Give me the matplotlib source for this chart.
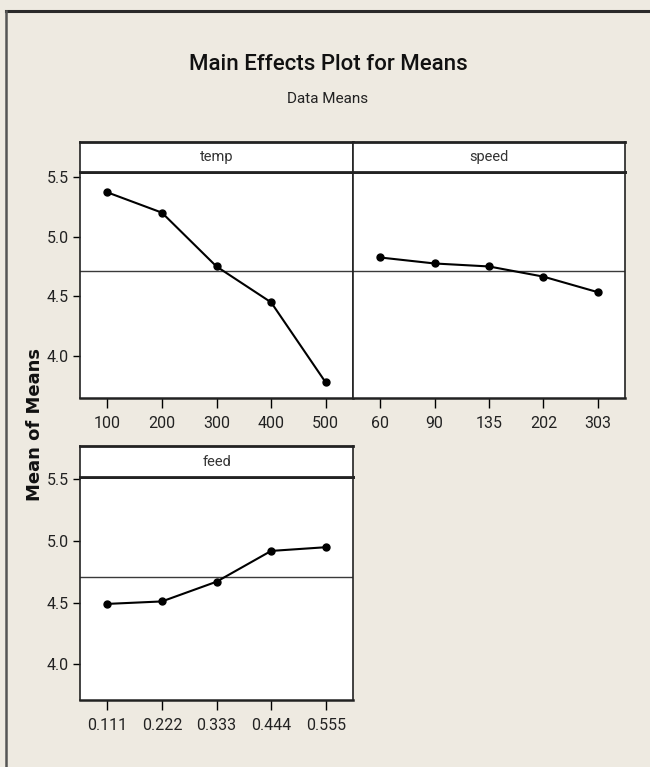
import matplotlib.pyplot as plt
from matplotlib.lines import Line2D

# data (Minitab main effects plot)
temp_levels = ['100', '200', '300', '400', '500']
temp_means = [5.37, 5.20, 4.75, 4.45, 3.78]

speed_levels = ['60', '90', '135', '202', '303']
speed_means = [4.825, 4.775, 4.75, 4.665, 4.535]

feed_levels = ['0.111', '0.222', '0.333', '0.444', '0.555']
feed_means = [4.49, 4.51, 4.67, 4.92, 4.95]

grand_mean = 4.71
y_ticks = [4.0, 4.5, 5.0, 5.5]

W, H = 650, 767
bg = '#EEEAE1'
narrow = ['Roboto', 'DejaVu Sans']

fig = plt.figure(figsize=(6.5, 7.67), dpi=100, facecolor=bg)


def px_axes(x0, y0, x1, y1):
    # pixel box (top-left origin) -> figure axes
    return fig.add_axes([x0 / W, 1 - y1 / H, (x1 - x0) / W, (y1 - y0) / H])


def panel(x0, x1, y_strip, y_top, y_bot, levels, means, name, ylim, show_y):
    ax = px_axes(x0, y_top, x1, y_bot)
    ax.set_facecolor('white')
    ax.plot(range(len(levels)), means, color='black', lw=1.5, marker='o',
            ms=5, zorder=3)
    ax.axhline(grand_mean, color='#3a3a3a', lw=1.0, zorder=2)
    ax.set_xlim(-0.5, len(levels) - 0.5)
    ax.set_ylim(*ylim)
    ax.set_xticks(range(len(levels)))
    ax.set_xticklabels(levels, family=narrow, fontsize=11.5, color='#222222')
    ax.set_yticks(y_ticks)
    if show_y:
        ax.set_yticklabels([f'{v:.1f}' for v in y_ticks], family=narrow,
                           fontsize=11.5, color='#222222')
        ax.tick_params(axis='y', length=5, width=1, direction='out', pad=3)
    else:
        ax.tick_params(axis='y', length=0, labelleft=False)
    ax.tick_params(axis='x', length=7, width=1, direction='out', pad=6)
    for s in ax.spines.values():
        s.set_color('#222222')
        s.set_linewidth(1.2)
    ax.spines['top'].set_linewidth(2.0)
    ax.spines['bottom'].set_linewidth(1.8)

    strip = px_axes(x0, y_strip, x1, y_top)
    strip.set_facecolor('white')
    strip.set_xticks([])
    strip.set_yticks([])
    for s in strip.spines.values():
        s.set_color('#222222')
        s.set_linewidth(1.2)
    strip.spines['top'].set_linewidth(2.0)
    strip.spines['bottom'].set_linewidth(2.0)
    strip.text(0.5, 0.5, name, ha='center', va='center', family=narrow,
               fontsize=10.5, color='#333333', transform=strip.transAxes)
    return ax


panel(80, 353, 142, 172, 398, temp_levels, temp_means, 'temp', (3.65, 5.54), True)
panel(353, 625, 142, 172, 398, speed_levels, speed_means, 'speed', (3.65, 5.54), False)
panel(80, 353, 446, 477, 700, feed_levels, feed_means, 'feed', (3.71, 5.52), True)

fig.text(328 / W, 1 - 65 / H, 'Main Effects Plot for Means', ha='center',
         va='center', family=narrow, fontsize=16, fontweight='medium',
         color='#111111')
fig.text(328 / W, 1 - 99 / H, 'Data Means', ha='center', va='center',
         family=narrow, fontsize=11, color='#222222')
fig.text(35 / W, 1 - 425 / H, 'Mean of Means', rotation=90, ha='center',
         va='center', fontsize=13, fontweight='bold', color='#111111')

# outer frame lines (top and left) as in the screenshot
fig.add_artist(Line2D([6 / W, 1], [1 - 11 / H, 1 - 11 / H], color='#2a2a2a',
                      lw=2.2, transform=fig.transFigure))
fig.add_artist(Line2D([6 / W, 6 / W], [1 - 11 / H, 0], color='#555555',
                      lw=1.8, transform=fig.transFigure))

fig.savefig('out.png', dpi=100, facecolor=bg)
